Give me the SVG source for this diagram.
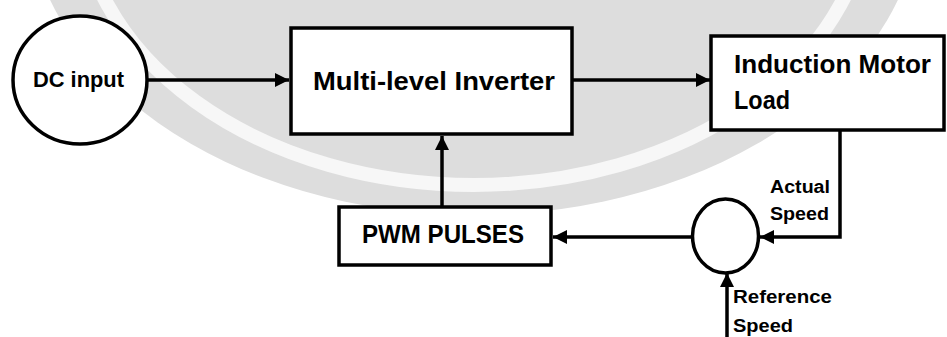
<svg xmlns="http://www.w3.org/2000/svg" width="947" height="337" viewBox="0 0 947 337">
  <style>
    .shape { fill: #ffffff; stroke: #000000; stroke-width: 3.5; }
    .wire { fill: none; stroke: #000000; stroke-width: 3.5; }
    .lbl { font-family: "Liberation Sans", Arial, sans-serif; font-weight: bold; fill: #000000; }
  </style>
  <defs>
    <marker id="arrow" markerUnits="userSpaceOnUse" markerWidth="15" markerHeight="14" refX="14" refY="7" orient="auto">
      <path d="M0,0 L14,7 L0,14 z" fill="#000000"/>
    </marker>
  </defs>
  <rect width="947" height="337" fill="#ffffff"/>
  <g id="watermark">
    <ellipse cx="474" cy="-100" rx="447" ry="315" fill="#dddddd"/>
    <ellipse cx="474" cy="-100" rx="394" ry="285" fill="none" stroke="#f7f7f7" stroke-width="14"/>
  </g>
  <g id="connectors">
    <line class="wire" x1="148" y1="80" x2="289" y2="80" marker-end="url(#arrow)"/>
    <line class="wire" x1="573" y1="80" x2="710" y2="80" marker-end="url(#arrow)"/>
    <path class="wire" d="M840,131 V237 H760" marker-end="url(#arrow)"/>
    <line class="wire" x1="692" y1="237" x2="553" y2="237" marker-end="url(#arrow)"/>
    <line class="wire" x1="442" y1="206" x2="442" y2="136" marker-end="url(#arrow)"/>
    <line class="wire" x1="727" y1="337" x2="727" y2="273" marker-end="url(#arrow)"/>
  </g>
  <g id="dc-input">
    <ellipse class="shape" cx="80" cy="80" rx="67" ry="64"/>
    <text class="lbl" x="33" y="87" font-size="22" textLength="91" lengthAdjust="spacingAndGlyphs">DC input</text>
  </g>
  <g id="inverter">
    <rect class="shape" x="291" y="28" width="281" height="106"/>
    <text class="lbl" x="313" y="90" font-size="25" textLength="242" lengthAdjust="spacingAndGlyphs">Multi-level Inverter</text>
  </g>
  <g id="motor">
    <rect class="shape" x="711" y="36" width="233" height="94"/>
    <text class="lbl" x="734" y="73" font-size="26" textLength="197" lengthAdjust="spacingAndGlyphs">Induction Motor</text>
    <text class="lbl" x="734" y="109" font-size="26" textLength="56" lengthAdjust="spacingAndGlyphs">Load</text>
  </g>
  <g id="pwm">
    <rect class="shape" x="339" y="207" width="212" height="58"/>
    <text class="lbl" x="362" y="243" font-size="25" textLength="162" lengthAdjust="spacingAndGlyphs">PWM PULSES</text>
  </g>
  <g id="summing">
    <ellipse class="shape" cx="725.5" cy="236" rx="33" ry="37"/>
  </g>
  <g id="actual-speed">
    <text class="lbl" x="770" y="193" font-size="18" textLength="60" lengthAdjust="spacingAndGlyphs">Actual</text>
    <text class="lbl" x="770" y="220" font-size="18" textLength="59" lengthAdjust="spacingAndGlyphs">Speed</text>
  </g>
  <g id="reference-speed">
    <text class="lbl" x="733" y="303" font-size="18" textLength="99" lengthAdjust="spacingAndGlyphs">Reference</text>
    <text class="lbl" x="733" y="332" font-size="18" textLength="60" lengthAdjust="spacingAndGlyphs">Speed</text>
  </g>
</svg>
